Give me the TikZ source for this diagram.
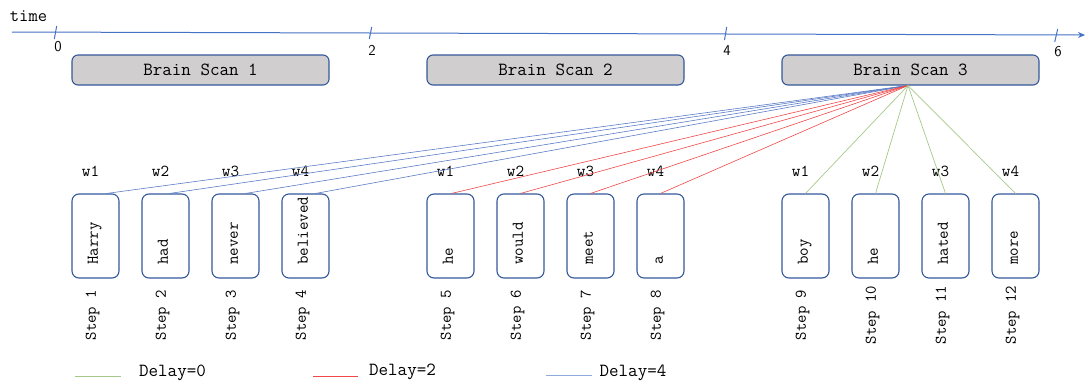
\documentclass[tikz,border=0pt]{standalone}
\usepackage{fontspec}
\setmainfont{Liberation Sans}
\usetikzlibrary{arrows.meta}
\definecolor{axisblue}{HTML}{4472C4}
\definecolor{boxblue}{HTML}{34589B}
\definecolor{scangray}{HTML}{D0CECE}
\definecolor{lblue}{HTML}{5B7CC6}
\definecolor{legblue}{HTML}{8FAADC}
\definecolor{lred}{HTML}{F04848}
\definecolor{lgreen}{HTML}{A6C98A}
\tikzset{
  scan/.style={draw=boxblue, fill=scangray, rounded corners=6pt, line width=1.1pt,
    minimum width=257pt, minimum height=30pt, inner sep=0pt,
    font=\ttfamily\fontsize{18.5}{18.5}\selectfont},
  wbox/.style={draw=boxblue, rounded corners=7pt, line width=1.1pt,
    minimum width=47pt, minimum height=84pt, inner sep=0pt},
  wtext/.style={rotate=90, anchor=west, inner sep=0pt, text height=1.3ex, text depth=0.4ex,
    font=\ttfamily\fontsize{16.5}{16.5}\selectfont},
  steplab/.style={rotate=90, inner sep=0pt, text height=1.3ex, text depth=0.4ex,
    font=\ttfamily\fontsize{16.3}{16.3}\selectfont},
  wlab/.style={inner sep=0pt, font=\ttfamily\fontsize{16.7}{16.7}\selectfont},
  ticklab/.style={inner sep=0pt, font=\sffamily\fontsize{15}{15}\selectfont},
  legtext/.style={inner sep=0pt, font=\ttfamily\fontsize{18.5}{18.5}\selectfont},
  fanb/.style={draw=lblue, line width=0.6pt},
  fanr/.style={draw=lred, line width=0.6pt},
  fang/.style={draw=lgreen, line width=0.7pt},
  tick/.style={draw=axisblue, line width=1pt},
}
\begin{document}
\begin{tikzpicture}[x=1pt,y=-1pt]
\useasboundingbox (0,0) rectangle (1085,383);

% time axis
\node[inner sep=0pt, font=\ttfamily\fontsize{18}{18}\selectfont] (timelab) at (28.5,16) {time};
\coordinate (ax0) at (12,32);
\coordinate (ax1) at (1085,35);
\draw[draw=axisblue, line width=1pt, -{Stealth[length=7pt,width=6pt]}] (ax0) -- (ax1);
\coordinate (t0a) at (56.7,26); \coordinate (t0b) at (54.3,39);
\coordinate (t2a) at (371.7,27); \coordinate (t2b) at (369.3,39);
\coordinate (t4a) at (726.7,27); \coordinate (t4b) at (724.5,40);
\coordinate (t6a) at (1057.7,29); \coordinate (t6b) at (1054.7,42);
\draw[tick] (t0a) -- (t0b);
\draw[tick] (t2a) -- (t2b);
\draw[tick] (t4a) -- (t4b);
\draw[tick] (t6a) -- (t6b);
\node[ticklab] (l0) at (58,47) {0};
\node[ticklab] (l2) at (372,50) {2};
\node[ticklab] (l4) at (727,51) {4};
\node[ticklab] (l6) at (1058,52) {6};

% brain scans
\node[scan] (s1) at (200.5,70) {Brain Scan 1};
\node[scan] (s2) at (555.5,70) {Brain Scan 2};
\node[scan] (s3) at (910.5,70) {Brain Scan 3};
\coordinate (fan) at (908,85.5);

% word boxes
\foreach \i/\x/\w/\s/\k in {1/95.5/Harry/Step 1/1, 2/165.5/had/Step 2/2, 3/235.5/never/Step 3/3, 4/305.5/believed/Step 4/4,
  5/450.5/he/Step 5/1, 6/520.5/would/Step 6/2, 7/590.5/meet/Step 7/3, 8/660.5/a/Step 8/4,
  9/805.5/boy/Step 9/1, 10/875.5/he/Step 10/2, 11/945.5/hated/Step 11/3, 12/1015.5/more/Step 12/4}{
  \node[wbox] (b\i) at (\x,236) {};
  \node[wtext] (t\i) at (\x,265) {\w};
  \node[steplab] (st\i) at (\x-2,315) {\s};
  \node[wlab] (w\i) at (\x-5,171) {w\k};
}

% connectors
\draw[fanb] (fan) -- ([xshift=11pt]b1.north);
\draw[fanb] (fan) -- ([xshift=4pt]b2.north);
\draw[fanb] (fan) -- ([xshift=10pt]b3.north);
\draw[fanb] (fan) -- ([xshift=10pt]b4.north);
\draw[fanr] (fan) -- ([xshift=1pt]b5.north);
\draw[fanr] (fan) -- (b6.north);
\draw[fanr] (fan) -- (b7.north);
\draw[fanr] (fan) -- (b8.north);
\draw[fang] (fan) -- (b9.north);
\draw[fang] (fan) -- (b10.north);
\draw[fang] (fan) -- (b11.north);
\draw[fang] (fan) -- (b12.north);

% legend
\coordinate (g0) at (75,376); \coordinate (g1) at (121,376);
\coordinate (r0) at (313,376); \coordinate (r1) at (358,376);
\coordinate (u0) at (546,375); \coordinate (u1) at (592,375);
\draw[fang] (g0) -- (g1);
\draw[fanr] (r0) -- (r1);
\draw[draw=legblue, line width=0.7pt] (u0) -- (u1);
\node[legtext] (d0) at (172.5,373) {Delay=0};
\node[legtext] (d2) at (402.5,372) {Delay=2};
\node[legtext] (d4) at (633,373) {Delay=4};
\end{tikzpicture}
\end{document}
